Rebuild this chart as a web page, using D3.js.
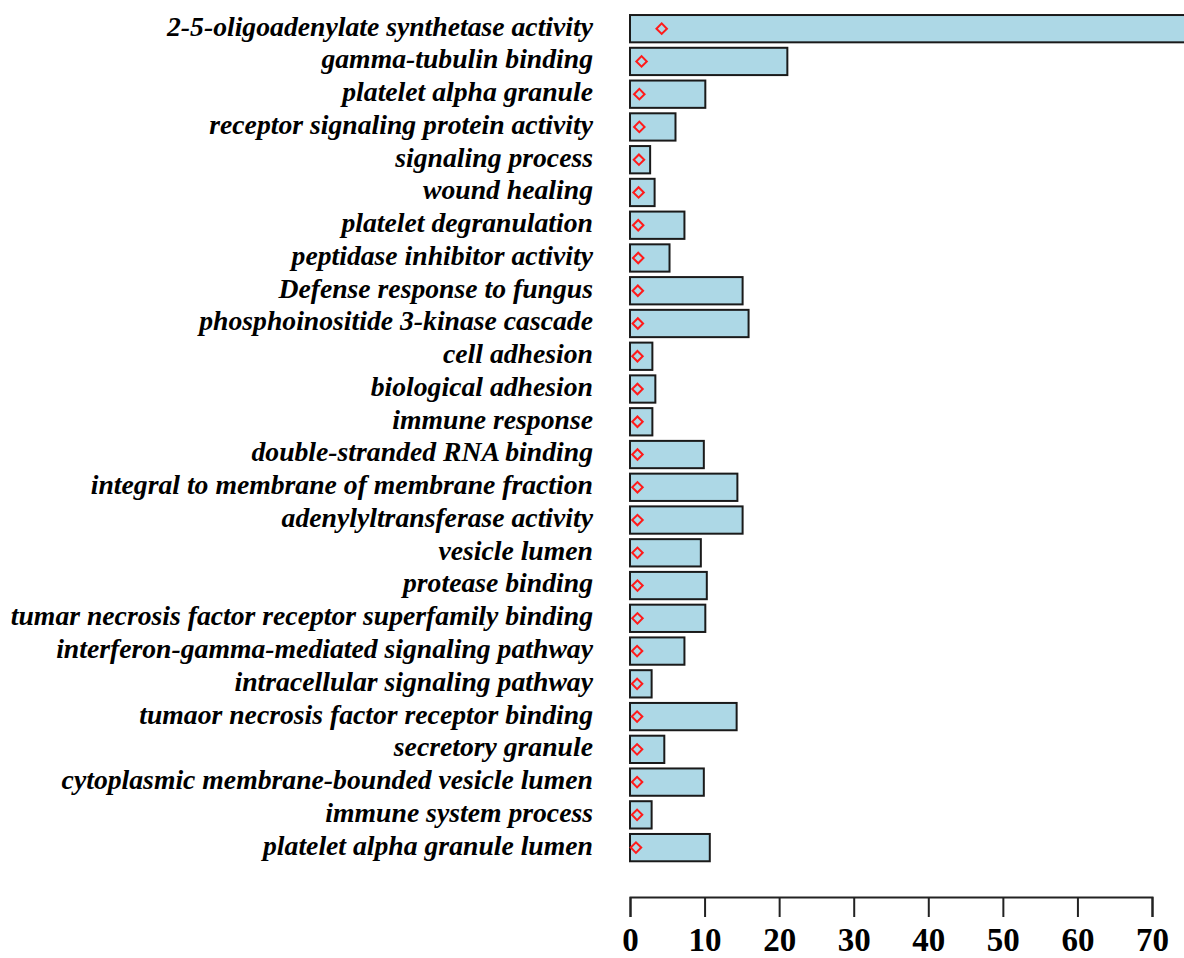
<!DOCTYPE html>
<html>
<head>
<meta charset="utf-8">
<script src="https://cdn.jsdelivr.net/npm/d3@7"></script>
<style>
  body { margin: 0; background: #fff; }
  svg { display: block; }
</style>
</head>
<body>
<div id="chart"></div>
<script>
// GO terms, top to bottom
var terms = [
  "2-5-oligoadenylate synthetase activity",
  "gamma-tubulin binding",
  "platelet alpha granule",
  "receptor signaling protein activity",
  "signaling process",
  "wound healing",
  "platelet degranulation",
  "peptidase inhibitor activity",
  "Defense response to fungus",
  "phosphoinositide 3-kinase cascade",
  "cell adhesion",
  "biological adhesion",
  "immune response",
  "double-stranded RNA binding",
  "integral to membrane of membrane fraction",
  "adenylyltransferase activity",
  "vesicle lumen",
  "protease binding",
  "tumar necrosis factor receptor superfamily binding",
  "interferon-gamma-mediated signaling pathway",
  "intracellular signaling pathway",
  "tumaor necrosis factor receptor binding",
  "secretory granule",
  "cytoplasmic membrane-bounded vesicle lumen",
  "immune system process",
  "platelet alpha granule lumen"
];

// bar lengths (first one runs off the page)
var barValues = [80, 21.1, 10.1, 6.1, 2.7, 3.3, 7.3, 5.3, 15.1, 15.9, 3.0, 3.4, 3.0,
  9.9, 14.4, 15.1, 9.5, 10.3, 10.1, 7.3, 2.9, 14.3, 4.6, 9.9, 2.9, 10.7];

// red diamond markers
var pointValues = [4.25, 1.55, 1.25, 1.25, 1.2, 1.15, 1.1, 1.1, 1.05, 1.05, 1.0, 1.0, 1.0,
  1.0, 1.0, 1.0, 1.0, 1.0, 1.0, 0.95, 0.95, 0.95, 0.95, 0.95, 0.95, 0.8];

var xTicks = [0, 10, 20, 30, 40, 50, 60, 70];

var width = 1184, height = 958;

var svg = d3.select("#chart")
  .append("svg")
    .attr("width", width)
    .attr("height", height);

var x = d3.scaleLinear()
  .domain([0, 70])
  .range([630, 1152]);

var y = d3.scaleBand()
  .domain(terms)
  .range([12.3, 864])
  .paddingInner(0.1667)
  .paddingOuter(0.0833);

// bars
svg.append("g")
  .selectAll("rect")
  .data(terms)
  .enter()
  .append("rect")
    .attr("x", x(0))
    .attr("y", function(d) { return y(d); })
    .attr("width", function(d, i) { return x(barValues[i]) - x(0); })
    .attr("height", y.bandwidth())
    .attr("fill", "#add8e6")
    .attr("stroke", "#1a1a1a")
    .attr("stroke-width", 2);

// diamonds
var diamond = d3.symbol().type(d3.symbolSquare).size(55);
svg.append("g")
  .selectAll("path")
  .data(terms)
  .enter()
  .append("path")
    .attr("d", diamond)
    .attr("transform", function(d, i) {
      return "translate(" + x(pointValues[i]) + "," + (y(d) + y.bandwidth() / 2) + ") rotate(45)";
    })
    .attr("fill", "none")
    .attr("stroke", "#ff1a1a")
    .attr("stroke-width", 2);

// category labels
svg.append("g")
  .selectAll("text")
  .data(terms)
  .enter()
  .append("text")
    .attr("x", 593)
    .attr("y", function(d) { return y(d) + y.bandwidth() / 2; })
    .attr("dy", "0.25em")
    .attr("text-anchor", "end")
    .style("font-family", "'Liberation Serif', 'DejaVu Serif', serif")
    .style("font-weight", "bold")
    .style("font-style", "italic")
    .style("font-size", "27.7px")
    .text(function(d) { return d; });

// x axis
var axis = svg.append("g")
  .attr("transform", "translate(0,897)")
  .call(d3.axisBottom(x)
    .tickValues(xTicks)
    .tickSize(20)
    .tickSizeOuter(20)
    .tickPadding(11));

axis.select(".domain")
  .attr("stroke", "#222")
  .attr("stroke-width", 2);
axis.selectAll(".tick line")
  .attr("stroke", "#222")
  .attr("stroke-width", 2);
axis.selectAll(".tick text")
  .attr("fill", "#000")
  .style("font-family", "'Liberation Serif', 'DejaVu Serif', serif")
  .style("font-weight", "bold")
  .style("font-size", "33px");
</script>
</body>
</html>
